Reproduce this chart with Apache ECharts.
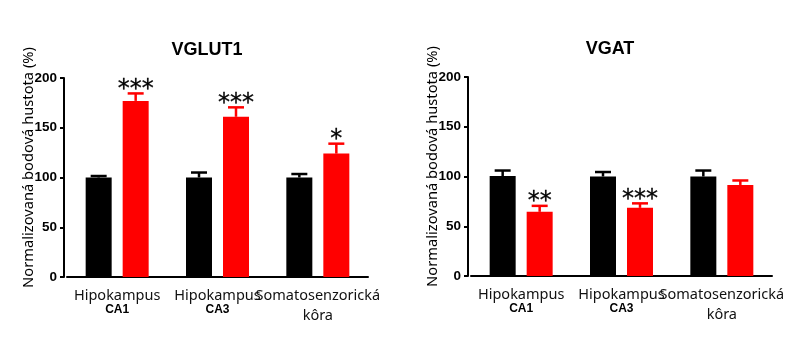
<!DOCTYPE html>
<html><head><meta charset="utf-8">
<script src="https://cdn.jsdelivr.net/npm/echarts@6/dist/echarts.min.js"></script>
<style>html,body{margin:0;padding:0;background:#fff}#c{width:796px;height:337px}</style>
</head><body><div id="c"></div><script>
// ---- data ----
const catLine1 = ['Hipokampus', 'Hipokampus', 'Somatosenzorická'];
const catLine2 = ['CA1', 'CA3', 'kôra'];
const titles = ['VGLUT1', 'VGAT'];
const yTicks = [0, 50, 100, 150, 200];
const yName = 'Normalizovaná bodová hustota (%)';

const vglutControl = [100, 100, 100];
const vglutControlErr = [1.5, 5, 3.5];
const vglutTreat = [177, 161, 124];
const vglutTreatErr = [7.5, 9.5, 10];
const vglutStars = ['***', '***', '*'];

const vgatControl = [100.5, 100, 100];
const vgatControlErr = [5.5, 4.5, 6];
const vgatTreat = [64.5, 68.5, 91.5];
const vgatTreatErr = [6, 4.5, 4.5];
const vgatStars = ['**', '***', ''];

// ---- build ----
const BLACK = '#000000', RED = '#ff0000';
const BAR_W = 26, GAP = 11, OFF = (BAR_W + GAP) / 2;
const grids = [
  {left: 67, top: 78, width: 301, height: 199},
  {left: 471, top: 77, width: 301, height: 199}
];
const panels = [
  {ctrl: vglutControl, ctrlErr: vglutControlErr, trt: vglutTreat, trtErr: vglutTreatErr, stars: vglutStars},
  {ctrl: vgatControl, ctrlErr: vgatControlErr, trt: vgatTreat, trtErr: vgatTreatErr, stars: vgatStars}
];

function errSeries(gi, vals, errs, off, color) {
  return {
    type: 'custom', xAxisIndex: gi, yAxisIndex: gi, z: 5,
    data: vals.map((v, i) => [i, v, errs[i]]),
    encode: {x: 0, y: 1},
    renderItem: function (params, api) {
      const i = api.value(0), v = api.value(1), e = api.value(2);
      const p0 = api.coord([i, v]), p1 = api.coord([i, v + e]);
      const x = p0[0] + off;
      const st = {stroke: color, lineWidth: 2.5};
      return {type: 'group', children: [
        {type: 'line', shape: {x1: x, y1: p0[1], x2: x, y2: p1[1]}, style: st},
        {type: 'line', shape: {x1: x - 8, y1: p1[1], x2: x + 8, y2: p1[1]}, style: st}
      ]};
    }
  };
}
function starSeries(gi, vals, errs, stars, off) {
  return {
    type: 'custom', xAxisIndex: gi, yAxisIndex: gi, z: 6,
    data: vals.map((v, i) => [i, v + errs[i]]),
    encode: {x: 0, y: 1},
    renderItem: function (params, api) {
      const p = api.coord([api.value(0), api.value(1)]);
      return {type: 'text', style: {
        text: stars[params.dataIndex], x: p[0] + off, y: p[1] - 4,
        textAlign: 'center', textVerticalAlign: 'middle',
        fontFamily: 'DejaVu Sans', fontSize: 24, fill: '#000',
        stroke: '#000', lineWidth: 0.3
      }};
    }
  };
}

const option = {
  animation: false,
  backgroundColor: '#fff',
  title: [
    {text: titles[0], left: 202, top: 36, textAlign: 'center',
     textStyle: {fontFamily: 'Liberation Sans', fontWeight: 'bold', fontSize: 18, color: '#000'}},
    {text: titles[1], left: 605, top: 35, textAlign: 'center',
     textStyle: {fontFamily: 'Liberation Sans', fontWeight: 'bold', fontSize: 18, color: '#000'}}
  ],
  grid: grids,
  xAxis: grids.map((g, gi) => ({
    type: 'category', gridIndex: gi, data: catLine1.map((c, i) => c + ' ' + catLine2[i]),
    axisLine: {lineStyle: {color: '#000', width: 2}},
    axisTick: {alignWithLabel: true, length: 5, lineStyle: {color: '#000', width: 2}},
    axisLabel: {
      margin: 11, interval: 0,
      formatter: function (v, i) {
        return '{a|' + catLine1[i] + '}\n' + (i < 2 ? '{b|' : '{c|') + catLine2[i] + '}';
      },
      rich: {
        a: {fontFamily: 'Noto Sans', fontSize: 14.5, lineHeight: 16, color: '#111'},
        b: {fontFamily: 'Liberation Sans', fontWeight: 'bold', fontSize: 12, lineHeight: 12, color: '#000'},
        c: {fontFamily: 'Noto Sans', fontSize: 14.5, lineHeight: 24, color: '#111'}
      }
    }
  })),
  yAxis: grids.map((g, gi) => ({
    type: 'value', gridIndex: gi, min: yTicks[0], max: yTicks[yTicks.length - 1], interval: 50,
    offset: 3,
    splitLine: {show: false},
    axisLine: {show: true, lineStyle: {color: '#000', width: 2}},
    axisTick: {show: true, length: 4, lineStyle: {color: '#000', width: 2}},
    axisLabel: {margin: 7, fontFamily: 'Liberation Sans', fontWeight: 'bold', fontSize: 13.5, color: '#000'},
    name: yName, nameLocation: 'middle', nameGap: 28, nameRotate: 90, nameMoveOverlap: false,
    nameTextStyle: {fontFamily: 'Noto Sans', fontSize: 14.7, color: '#000', padding: [0, 0, 0, 20]}
  })),
  series: []
};
panels.forEach((p, gi) => {
  option.series.push({type: 'bar', xAxisIndex: gi, yAxisIndex: gi, data: p.ctrl, barWidth: BAR_W,
    barGap: (GAP / BAR_W * 100) + '%', itemStyle: {color: BLACK}});
  option.series.push({type: 'bar', xAxisIndex: gi, yAxisIndex: gi, data: p.trt, barWidth: BAR_W,
    barGap: (GAP / BAR_W * 100) + '%', itemStyle: {color: RED}});
  option.series.push(errSeries(gi, p.ctrl, p.ctrlErr, -OFF, BLACK));
  option.series.push(errSeries(gi, p.trt, p.trtErr, OFF, RED));
  option.series.push(starSeries(gi, p.trt, p.trtErr, p.stars, OFF));
});
echarts.init(document.getElementById('c'), null, {renderer: 'canvas'}).setOption(option);
</script></body></html>
